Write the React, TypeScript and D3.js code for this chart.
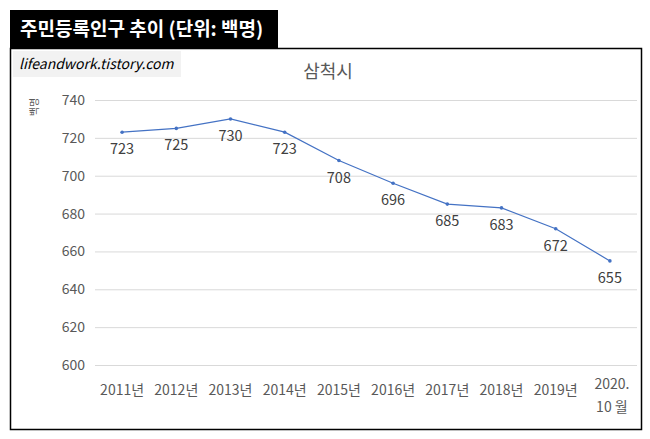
import * as d3 from 'd3'

const CATEGORIES = ['2011년', '2012년', '2013년', '2014년', '2015년', '2016년', '2017년', '2018년', '2019년', '2020.\n10 월']
const VALUES = [723, 725, 730, 723, 708, 696, 685, 683, 672, 655]
const Y_TICKS = [600, 620, 640, 660, 680, 700, 720, 740]

const W = 650
const H = 439
const FONT = '"Noto Sans CJK KR", "Noto Sans", sans-serif'

export default function App() {
  const x = d3.scaleBand<string>().domain(CATEGORIES).range([95, 637])
  const y = d3.scaleLinear().domain([600, 740]).range([365, 100])
  const cx = (c: string) => (x(c) ?? 0) + x.bandwidth() / 2

  const path = d3
    .line<number>()
    .x((_, i) => cx(CATEGORIES[i]))
    .y((v) => y(v))(VALUES) ?? ''

  return (
    <svg
      width={W}
      height={H}
      style={{ position: 'absolute', left: 0, top: 0, background: '#fff' }}
      fontFamily={FONT}
    >
      <rect x={0} y={0} width={W} height={H} fill="#fff" />
      {/* header */}
      <rect x={10} y={10} width={268} height={38} fill="#000" />
      <text x={20} y={36} fill="#fff" fontSize={19} fontWeight="bold">
        주민등록인구 추이 (단위: 백명)
      </text>
      {/* chart frame */}
      <rect x={10.5} y={48.5} width={631} height={381} fill="none" stroke="#000" strokeWidth={1.5} />
      <rect x={13} y={51} width={168} height={26} fill="#f2f2f2" />
      <text x={19} y={69} fontSize={14} fontStyle="italic" fill="#000">
        lifeandwork.tistory.com
      </text>
      <text x={328} y={78} fontSize={18} fill="#595959" textAnchor="middle">
        삼척시
      </text>
      <text
        transform="translate(38,107) rotate(-90)"
        fontSize={10}
        fill="#595959"
        textAnchor="middle"
      >
        백명
      </text>

      {/* grid + y ticks */}
      {Y_TICKS.map((t) => (
        <g key={t}>
          <line x1={95} x2={637} y1={y(t) + 0.5} y2={y(t) + 0.5} stroke="#d9d9d9" strokeWidth={1} />
          <text x={85} y={y(t) + 5} fontSize={14} fill="#595959" textAnchor="end">
            {t}
          </text>
        </g>
      ))}

      {/* x labels */}
      {CATEGORIES.map((c) => {
        const lines = c.split('\n')
        return (
          <text key={c} fontSize={14} fill="#595959" textAnchor="middle">
            {lines.map((l, i) => (
              <tspan key={i} x={cx(c) + (lines.length > 1 ? 2 : 0)} y={lines.length > 1 ? 389 + i * 23 : 395}>
                {l}
              </tspan>
            ))}
          </text>
        )
      })}

      {/* series */}
      <path d={path} fill="none" stroke="#4472c4" strokeWidth={1.2} />
      {VALUES.map((v, i) => (
        <g key={i}>
          <circle cx={cx(CATEGORIES[i])} cy={y(v)} r={1.8} fill="#4472c4" />
          <text x={cx(CATEGORIES[i])} y={y(v) + 22} fontSize={14.5} fill="#404040" textAnchor="middle">
            {v}
          </text>
        </g>
      ))}
    </svg>
  )
}
